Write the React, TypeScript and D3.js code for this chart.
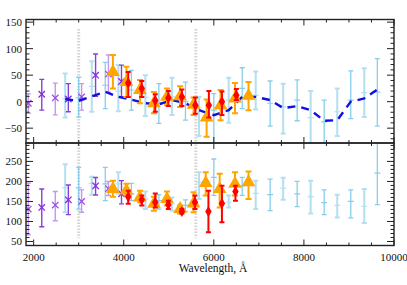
import React from 'react';
import * as d3 from 'd3';

// each point: [wavelength, value, upper, lower]
type Pt = [number, number, number, number];

const purpleTop: Pt[] = [
  [1880, -3, 15, -22], [2180, 14, 42, -16], [2480, 7, 35, -25], [2770, 5, 34, -19],
  [3065, 9, 34, -16], [3375, 50, 90, 10], [3660, 52, 88, 18], [3950, 38, 69, 9],
];
const purpleBot: Pt[] = [
  [1880, 131, 196, 67], [2180, 135, 181, 87], [2480, 141, 175, 102], [2770, 154, 191, 117],
  [3065, 150, 179, 123], [3375, 189, 210, 166], [3660, 182, 200, 165], [3950, 169, 202, 144],
];

const blueWaves = [2700, 3000, 3290, 3590, 3880, 4170, 4480, 4780, 5070, 5370, 5670, 6000,
  6330, 6630, 6930, 7250, 7540, 7850, 8150, 8450, 8740, 9040, 9340, 9630];
const blueTopVal = [5, 7, 29, 31, 20, 22, 8, -3, 9, 0, -12, -16, 3, 25, 12, -3, -10, 3, -30, -38, -19, 3, 17, 18];
const blueTopHi = [53, 46, 76, 74, 69, 59, 50, 34, 45, 37, 9, 15, 45, 64, 57, 39, 34, 41, 20, 3, 25, 58, 63, 81];
const blueTopLo = [-30, -29, -19, -13, -18, -16, -27, -41, -25, -35, -65, -90, -40, -13, -15, -46, -60, -36, -90, -90, -65, -32, -29, -46];
const blueBotVal = [184, 184, 195, 194, 194, 169, 156, 152, 144, 140, 198, 210, 148, 189, 170, 167, 183, 169, 162, 147, 140, 150, 138, 221];
const blueBotHi = [243, 235, 212, 235, 223, 195, 175, 167, 160, 154, 223, 256, 165, 210, 202, 206, 209, 200, 202, 179, 167, 179, 181, 320];
const blueBotLo = [123, 131, 167, 152, 169, 152, 131, 131, 127, 125, 156, 165, 135, 165, 131, 127, 154, 137, 120, 117, 110, 109, 96, 142];

const modelTop = [5, 1.5, 10, 18.5, 9, 4, -3, -5, 3, -3, -16, -25.5, -16, 9, 9, 3, -12, -8.5, -16, -36, -35, 0, 6, 23];

const orangeTop: Pt[] = [
  [3760, 56, 88, 25], [4060, 37, 66, 9], [4360, 22, 41, -3], [4670, -3, 18, -22],
  [4960, 9, 25, -7], [5250, 10, 29, -10], [5550, -6, 8, -25], [5840, -30, 4, -66],
  [6150, -7, 22, -35], [6470, 6, 35, -22], [6770, 11, 37, -16],
];
const orangeBot: Pt[] = [
  [3760, 181, 202, 162], [4060, 177, 194, 165], [4360, 160, 177, 148], [4670, 144, 162, 127],
  [4960, 156, 175, 140], [5250, 131, 140, 120], [5550, 145, 173, 123], [5820, 196, 223, 165],
  [6130, 181, 219, 135], [6470, 194, 223, 165], [6770, 198, 225, 156],
];

const redTop: Pt[] = [
  [4100, 35, 56, 9], [4400, 25, 39, 9], [4700, 2, 14, -19], [4990, 7, 20, -8],
  [5290, 9, 23, -8], [5590, -7, 8, -23], [5890, -7, 20, -30], [6180, 0, 19, -25], [6500, 12, 24, 3],
];
const redBot: Pt[] = [
  [4100, 162, 177, 144], [4400, 154, 165, 140], [4700, 148, 170, 135], [4990, 142, 152, 131],
  [5290, 125, 131, 120], [5580, 148, 165, 131], [5880, 125, 177, 73], [6180, 145, 189, 98], [6480, 175, 189, 152],
];

const markLines = [3000, 5600];
const xTicks = [2000, 4000, 6000, 8000, 10000];
const yTopTicks = [-50, 0, 50, 100, 150];
const yBotTicks = [50, 100, 150, 200, 250];

const L = 26, R = 394, T1 = 19.5, B1 = 143, B2 = 245.5;
const x = d3.scaleLinear().domain([1830, 10000]).range([L, R]);
const yTop = d3.scaleLinear().domain([-78, 155]).range([B1, T1]);
const yBot = d3.scaleLinear().domain([40, 296]).range([B2, B1]);

const font = '"Liberation Serif", "DejaVu Serif", serif';
const purples = ['#9b4fe0', '#8a2be2'];
const purpleBars = ['#c597ee', '#8a3fd8'];
const blues = ['#b3dff0', '#87ceeb'];

type YS = d3.ScaleLinear<number, number>;

function ErrBar({ p, y, color, cap, w }: { p: Pt; y: YS; color: string; cap: number; w: number }) {
  const cx = x(p[0]);
  return (
    <g stroke={color} strokeWidth={w}>
      <line x1={cx} x2={cx} y1={y(p[2])} y2={y(p[3])} />
      <line x1={cx - cap} x2={cx + cap} y1={y(p[2])} y2={y(p[2])} />
      <line x1={cx - cap} x2={cx + cap} y1={y(p[3])} y2={y(p[3])} />
    </g>
  );
}

function Frame({ y, top, bottom, major, minorFrom, minorTo }: {
  y: YS; top: number; bottom: number; major: number[]; minorFrom: number; minorTo: number;
}) {
  const xMinor = d3.range(2000, 10001, 500).filter(v => v % 2000 !== 0);
  const yMinor = d3.range(minorFrom, minorTo + 1, 10).filter(v => !major.includes(v));
  const c = '#222';
  return (
    <g stroke={c} strokeWidth={1}>
      <rect x={L} y={top} width={R - L} height={bottom - top} fill="none" strokeWidth={1.4} />
      {xTicks.map(v => (
        <g key={'xm' + v}>
          <line x1={x(v)} x2={x(v)} y1={bottom} y2={bottom - 6} />
          <line x1={x(v)} x2={x(v)} y1={top} y2={top + 6} />
        </g>
      ))}
      {xMinor.map(v => (
        <g key={'xn' + v}>
          <line x1={x(v)} x2={x(v)} y1={bottom} y2={bottom - 3} />
          <line x1={x(v)} x2={x(v)} y1={top} y2={top + 3} />
        </g>
      ))}
      {major.map(v => (
        <g key={'ym' + v}>
          <line x1={L} x2={L + 7} y1={y(v)} y2={y(v)} />
          <line x1={R} x2={R - 7} y1={y(v)} y2={y(v)} />
        </g>
      ))}
      {yMinor.map(v => (
        <g key={'yn' + v}>
          <line x1={L} x2={L + 3.5} y1={y(v)} y2={y(v)} />
          <line x1={R} x2={R - 3.5} y1={y(v)} y2={y(v)} />
        </g>
      ))}
    </g>
  );
}

function Panel({ id, y, top, bottom, purple, bVal, bHi, bLo, orange, red, model, lineTop, lineBot }: {
  id: string; y: YS; top: number; bottom: number; purple: Pt[]; bVal: number[]; bHi: number[]; bLo: number[];
  orange: Pt[]; red: Pt[]; model?: number[]; lineTop: number; lineBot: number;
}) {
  const tri = d3.symbol(d3.symbolTriangle, 82)() as string;
  const dia = d3.symbol(d3.symbolDiamond, 36)() as string;
  const line = d3.line<number>().x((_, i) => x(blueWaves[i])).y(d => y(d));
  return (
    <g clipPath={`url(#${id})`}>
      <defs>
        <clipPath id={id}><rect x={L} y={top} width={R - L} height={bottom - top} /></clipPath>
      </defs>
      {markLines.map(v => (
        <line key={v} x1={x(v)} x2={x(v)} y1={y(lineTop)} y2={y(lineBot)} stroke="#d4d4d4"
          strokeWidth={3} strokeDasharray="1.5,1.5" />
      ))}
      {blueWaves.map((w, i) => {
        const col = blues[i % 2];
        const cx = x(w);
        return (
          <g key={'b' + w}>
            <ErrBar p={[w, bVal[i], bHi[i], bLo[i]]} y={y} color={col} cap={2.5} w={i % 2 ? 1.3 : 2} />
            <line x1={cx - 3} x2={cx + 3} y1={y(bVal[i])} y2={y(bVal[i])} stroke={col} strokeWidth={1.2} />
          </g>
        );
      })}
      {purple.map((p, i) => {
        const cx = x(p[0]), cy = y(p[1]);
        return (
          <g key={'p' + p[0]}>
            <ErrBar p={p} y={y} color={purpleBars[i % 2]} cap={2.5} w={1.4} />
            <path d={`M${cx - 3.2},${cy - 3.2}L${cx + 3.2},${cy + 3.2}M${cx - 3.2},${cy + 3.2}L${cx + 3.2},${cy - 3.2}`}
              stroke={purples[i % 2]} strokeWidth={1.3} />
          </g>
        );
      })}
      {model && (
        <path d={line(model) as string} fill="none" stroke="#1010e0" strokeWidth={2.4} strokeDasharray="8,6" />
      )}
      {orange.map(p => (
        <g key={'o' + p[0]}>
          <ErrBar p={p} y={y} color="#ffa500" cap={3} w={2} />
          <path d={tri} transform={`translate(${x(p[0])},${y(p[1])})`} fill="#ffa500" />
        </g>
      ))}
      {red.map(p => (
        <g key={'r' + p[0]}>
          <ErrBar p={p} y={y} color="#ff0000" cap={2.5} w={2} />
          <path d={dia} transform={`translate(${x(p[0])},${y(p[1])})`} fill="#ff0000" />
        </g>
      ))}
    </g>
  );
}

export default function App() {
  return (
    <svg width={407} height={285} style={{ position: 'absolute', left: 0, top: 0, background: '#fff' }}>
      <Panel id="clipTop" y={yTop} top={T1} bottom={B1} purple={purpleTop} bVal={blueTopVal} bHi={blueTopHi}
        bLo={blueTopLo} orange={orangeTop} red={redTop} model={modelTop} lineTop={137} lineBot={-80} />
      <Panel id="clipBot" y={yBot} top={B1} bottom={B2} purple={purpleBot} bVal={blueBotVal} bHi={blueBotHi}
        bLo={blueBotLo} orange={orangeBot} red={redBot} lineTop={300} lineBot={58} />
      <Frame y={yTop} top={T1} bottom={B1} major={yTopTicks} minorFrom={-70} minorTo={150} />
      <Frame y={yBot} top={B1} bottom={B2} major={yBotTicks} minorFrom={50} minorTo={290} />
      <g fontFamily={font} fontSize={11} fill="#111">
        {yTopTicks.map(v => (
          <text key={'t' + v} x={22} y={yTop(v)} dy="0.35em" textAnchor="end">{v < 0 ? '\u2212' + Math.abs(v) : v}</text>
        ))}
        {yBotTicks.map(v => (
          <text key={'b' + v} x={22} y={yBot(v)} dy="0.35em" textAnchor="end">{v}</text>
        ))}
        {xTicks.map(v => (
          <text key={'x' + v} x={x(v)} y={261} textAnchor="middle">{v}</text>
        ))}
        <text x={213} y={272} textAnchor="middle" fontSize={11.5}>Wavelength, Å</text>
      </g>
    </svg>
  );
}
